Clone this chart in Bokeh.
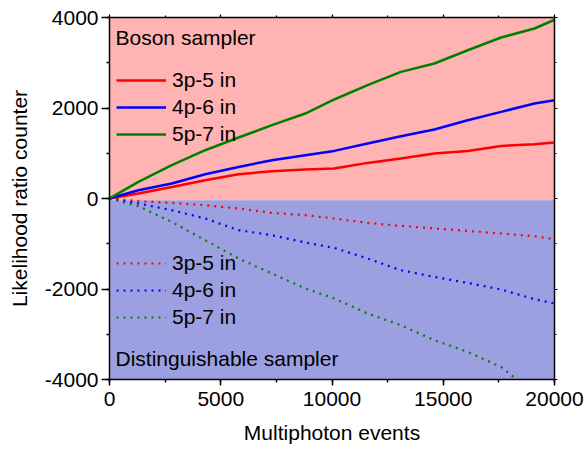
from bokeh.plotting import figure
from bokeh.models import (Range1d, LinearAxis, Legend, LegendItem, Label,
                          BoxAnnotation, SingleIntervalTicker, CustomJSTickFormatter)
from bokeh.embed import file_html
from bokeh.resources import INLINE

# ---- data ----
events = [0, 1300, 2800, 4300, 5800, 7300, 8800, 10100, 11600, 13100,
          14600, 16100, 17600, 19100, 20000]
boson_3p5 = [0, 110, 256, 404, 537, 603, 641, 663, 787, 884, 995, 1052, 1162, 1200, 1240]
boson_4p6 = [0, 183, 331, 537, 698, 846, 957, 1052, 1215, 1377, 1525, 1730, 1914, 2099, 2170]
boson_5p7 = [0, 367, 736, 1067, 1348, 1620, 1878, 2188, 2504, 2798, 2983, 3277, 3558, 3757, 3950]
dist_3p5 = [0, -60, -97, -148, -221, -318, -369, -442, -539, -605, -663, -716, -774, -833, -900]
dist_4p6 = [0, -110, -259, -442, -700, -811, -972, -1092, -1326, -1585, -1733, -1865, -2011, -2225, -2320]
events_dist_5p7 = [0, 1300, 2800, 4300, 5800, 7300, 8800, 10100, 11600, 13100,
                   14600, 16100, 17600, 18300]
dist_5p7 = [0, -170, -517, -922, -1326, -1658, -1989, -2210, -2541, -2800, -3132, -3390, -3722, -4000]
series_labels = ["3p-5 in", "4p-6 in", "5p-7 in"]
series_colors = ["#FF0000", "#0000FF", "#008000"]
y_ticks = [-4000, -2000, 0, 2000, 4000]
y_tick_labels = ["-4000", "-2000", "0", "2000", "4000"]
region_split = -40
x_limits = (0, 20000)
y_limits = (-4000, 4000)

FONT = "Liberation Sans"
FS = "21px"

p = figure(width=586, height=448, output_backend="svg", toolbar_location=None,
           x_range=Range1d(*x_limits), y_range=Range1d(*y_limits),
           min_border_left=109, min_border_right=32, min_border_top=17,
           min_border_bottom=69, outline_line_color=None)
p.xgrid.visible = False
p.ygrid.visible = False

p.add_layout(BoxAnnotation(bottom=region_split, fill_color="#FFB3B3", fill_alpha=1,
                           line_color=None, level="underlay"))
p.add_layout(BoxAnnotation(top=region_split, fill_color="#9C9FE0", fill_alpha=1,
                           line_color=None, level="underlay"))

solid = []
for ys, c in zip([boson_3p5, boson_4p6, boson_5p7], series_colors):
    solid.append(p.line(events, ys, line_color=c, line_width=2.5))
dotted = []
for xs, ys, c in zip([events, events, events_dist_5p7], [dist_3p5, dist_4p6, dist_5p7], series_colors):
    dotted.append(p.line(xs, ys, line_color=c, line_width=2.2, line_dash="2 5"))

xt = SingleIntervalTicker(interval=5000, num_minor_ticks=2)
yt = SingleIntervalTicker(interval=2000, num_minor_ticks=2)

for ax, t in ((p.xaxis[0], xt), (p.yaxis[0], yt)):
    ax.ticker = t
    ax.axis_line_width = 1.5
    ax.axis_line_color = "black"
    ax.major_tick_line_width = 1.5
    ax.minor_tick_line_width = 1.5
    ax.major_tick_in = 0
    ax.minor_tick_in = 0
    ax.major_label_text_font = FONT
    ax.major_label_text_font_size = FS
    ax.major_label_text_color = "black"
    ax.axis_label_text_font = FONT
    ax.axis_label_text_font_size = FS
    ax.axis_label_text_font_style = "normal"
    ax.axis_label_text_color = "black"

p.xaxis[0].axis_label = "Multiphoton events"
p.xaxis[0].major_tick_out = 6
p.xaxis[0].minor_tick_out = 3
p.xaxis[0].major_label_standoff = 6
p.xaxis[0].axis_label_standoff = 12
p.yaxis[0].axis_label = "Likelihood ratio counter"
p.yaxis[0].major_tick_out = 8
p.yaxis[0].minor_tick_out = 3
p.yaxis[0].major_label_standoff = 3
p.yaxis[0].axis_label_standoff = 11
p.yaxis[0].major_label_overrides = dict(zip(y_ticks, y_tick_labels))

blank = CustomJSTickFormatter(code="return ''")
for loc, t in (("above", xt), ("right", yt)):
    ax = LinearAxis(ticker=t, formatter=blank, major_label_standoff=0,
                    major_tick_out=3, minor_tick_out=2, major_tick_in=0, minor_tick_in=0,
                    axis_line_width=1.5, major_tick_line_width=1.2, minor_tick_line_width=1.2)
    p.add_layout(ax, loc)

def make_legend(rends, loc):
    lg = Legend(items=[LegendItem(label=l, renderers=[r]) for l, r in zip(series_labels, rends)],
                location=loc, label_text_font=FONT, label_text_font_size=FS,
                label_text_color="black",
                glyph_width=50, glyph_height=24, label_height=24, spacing=3,
                padding=0, margin=0, label_standoff=6,
                border_line_alpha=0, background_fill_alpha=0)
    return lg

p.add_layout(make_legend(solid, (7, 233)))
p.add_layout(make_legend(dotted, (7, 50)))

p.add_layout(Label(x=6, y=342, x_units="screen", y_units="screen", text="Boson sampler",
                   text_font=FONT, text_font_size=FS, text_color="black",
                   text_baseline="alphabetic"))
p.add_layout(Label(x=6, y=21.5, x_units="screen", y_units="screen", text="Distinguishable sampler",
                   text_font=FONT, text_font_size=FS, text_color="black",
                   text_baseline="alphabetic"))

open("out.html", "w").write(file_html(p, INLINE))
